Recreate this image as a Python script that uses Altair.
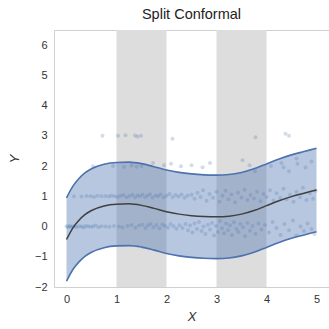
import altair as alt
import pandas as pd

# Fitted conditional mean (center of the split-conformal band)
grid_x = [0.0, 0.125, 0.25, 0.375, 0.5, 0.75, 1.0, 1.25, 1.5, 1.75, 2.0, 2.25,
          2.5, 2.75, 3.0, 3.25, 3.5, 3.75, 4.0, 4.25, 4.5, 4.75, 5.0]
grid_mu = [-0.43, -0.05, 0.21, 0.40, 0.53, 0.68, 0.74, 0.75, 0.70, 0.60, 0.49, 0.41,
           0.36, 0.33, 0.32, 0.34, 0.41, 0.53, 0.69, 0.85, 0.99, 1.10, 1.21]
# conformal quantile (half-width of the interval)
q_hat = 1.38

# Shaded x-regions
span_start = [1, 3]
span_end = [2, 4]

# Tick positions
x_ticks = [0, 1, 2, 3, 4, 5]
y_ticks = [-2, -1, 0, 1, 2, 3, 4, 5, 6]

# Observations
obs_x = [
    # around Y=0, x < 2.3
    0.00, 0.03, 0.06, 0.09, 0.12, 0.16, 0.20, 0.25, 0.30, 0.34, 0.38, 0.43, 0.48, 0.53,
    0.58, 0.64, 0.70, 0.78, 0.86, 0.95, 1.05, 1.12, 1.22, 1.30, 1.38, 1.45, 1.52, 1.58,
    1.63, 1.68, 1.74, 1.80, 1.86, 1.92, 1.97, 2.03, 2.08, 2.14, 2.20, 2.26,
    # around Y=0, x > 2.3
    2.32, 2.38, 2.43, 2.47, 2.52, 2.56, 2.61, 2.65, 2.70, 2.74, 2.78, 2.83, 2.87, 2.91,
    2.95, 2.99, 3.03, 3.07, 3.11, 3.15, 3.19, 3.23, 3.27, 3.31, 3.35, 3.40, 3.44, 3.48,
    3.53, 3.57, 3.62, 3.67, 3.72, 3.78, 3.84, 3.90, 3.97, 4.05, 4.12, 4.20, 4.28, 4.36,
    4.45, 4.53, 4.60, 4.68, 4.75, 4.82, 4.90, 4.96,
    # around Y=1, x < 2.5
    0.15, 0.30, 0.40, 0.48, 0.55, 0.62, 0.70, 0.78, 0.85, 0.90, 0.96, 1.02, 1.08, 1.14,
    1.20, 1.26, 1.32, 1.37, 1.42, 1.47, 1.52, 1.57, 1.62, 1.67, 1.72, 1.78, 1.83, 1.88,
    1.94, 2.00, 2.06, 2.12, 2.18, 2.24, 2.30, 2.36, 2.42,
    # around Y=1, x > 2.5
    2.50, 2.56, 2.62, 2.68, 2.73, 2.80, 2.86, 2.93, 3.00, 3.06, 3.12, 3.18, 3.24, 3.30,
    3.37, 3.43, 3.50, 3.56, 3.62, 3.68, 3.75, 3.81, 3.88, 3.94, 4.00, 4.07, 4.14, 4.20,
    4.27, 4.34, 4.40, 4.47, 4.54, 4.60, 4.67, 4.73, 4.80, 4.87, 4.93, 4.98,
    # around Y=2
    0.53, 0.93, 1.15, 1.30, 1.40, 1.50, 1.73, 1.95, 2.09, 2.29, 2.50, 2.72, 2.87, 3.52,
    3.66, 3.77, 4.09, 4.30, 4.34, 4.45, 4.60, 4.62, 4.78, 4.90,
    # around Y=3
    0.72, 1.03, 1.18, 1.37, 1.42, 1.49, 2.12, 3.78, 4.38, 4.45,
]
obs_y = [
    0.01, -0.02, 0.02, 0.00, -0.01, 0.02, -0.02, 0.01, 0.00, -0.03, 0.02, 0.01, -0.01, 0.00,
    0.03, -0.02, 0.01, 0.00, -0.01, 0.02, 0.00, -0.03, 0.02, 0.05, -0.04, 0.03, 0.06, -0.05,
    0.04, 0.08, -0.02, 0.05, -0.06, 0.07, 0.02, -0.04, 0.08, 0.01, -0.07, 0.04,
    -0.05, 0.08, -0.12, 0.03, -0.20, 0.10, -0.08, 0.15, -0.15, 0.00, -0.25, 0.06, -0.10, 0.12,
    -0.30, 0.02, -0.18, 0.18, -0.06, -0.22, 0.10, -0.12, 0.04, -0.28, 0.14, -0.08, -0.18, 0.08,
    -0.02, -0.32, 0.12, -0.14, 0.02, -0.24, 0.10, -0.10, 0.05, -0.20, 0.15, -0.05, -0.28, 0.08,
    -0.12, 0.20, -0.30, 0.00, -0.15, 0.10, -0.08, -0.25,
    1.00, 0.99, 1.01, 1.00, 0.98, 1.02, 1.00, 1.01, 0.99, 1.03, 1.00, 0.98, 1.02, 1.04,
    0.97, 1.01, 1.05, 0.96, 1.03, 1.00, 1.06, 0.97, 1.02, 1.07, 0.95, 1.03, 1.00, 1.06,
    0.96, 1.02, 1.08, 0.97, 1.04, 0.99, 1.06, 0.95, 1.02,
    1.05, 0.92, 1.12, 0.98, 1.20, 0.85, 1.08, 0.95, 1.15, 0.82, 1.02, 1.18, 0.90, 1.06,
    0.80, 1.12, 0.96, 1.22, 0.88, 1.04, 0.93, 1.15, 0.84, 1.08, 0.98, 1.20, 0.86, 1.10,
    0.95, 1.25, 0.90, 1.05, 0.82, 1.15, 0.97, 1.28, 0.88, 1.10, 0.92, 1.18,
    1.99, 2.00, 1.97, 2.02, 1.98, 2.00, 2.10, 2.03, 2.08, 1.99, 2.03, 1.96, 2.10, 2.19,
    2.03, 1.83, 2.00, 2.10, 1.96, 1.83, 2.25, 2.08, 1.95, 2.15,
    3.00, 3.00, 3.02, 3.01, 2.98, 3.00, 2.90, 2.95, 3.07, 3.00,
]

blue = "#4c72b0"
font = "Liberation Sans"

fit = pd.DataFrame({"x": grid_x, "mu": grid_mu})
spans = pd.DataFrame({"start": span_start, "end": span_end})
obs = pd.DataFrame({"x": obs_x, "y": obs_y})

xscale = alt.Scale(domain=[-0.25, 5.25], nice=False, zero=False)
yscale = alt.Scale(domain=[-2, 6.5], nice=False, zero=False)

xaxis = alt.Axis(values=x_ticks, title="X", grid=False, ticks=False,
                 domain=False, labelPadding=6, titlePadding=6, labelOverlap=False)
yaxis = alt.Axis(values=y_ticks, title="Y", grid=False,
                 ticks=False, domain=False, labelPadding=7, titlePadding=13,
                 labelOverlap=False)


def X(field):
    return alt.X(field, scale=xscale, axis=xaxis)


def Y(field):
    return alt.Y(field, scale=yscale, axis=yaxis)


shade = alt.Chart(spans).mark_rect(color="#dddddd").encode(
    x=X("start:Q"),
    x2="end:Q",
    y=alt.value(0),
    y2=alt.value(257),
)

points = alt.Chart(obs).mark_circle(color=blue, opacity=0.25, size=16).encode(
    x=X("x:Q"), y=Y("y:Q"),
)

band_base = alt.Chart(fit).transform_calculate(
    lo=f"datum.mu - {q_hat}", hi=f"datum.mu + {q_hat}"
)

band = band_base.mark_area(color=blue, opacity=0.4, interpolate="monotone").encode(
    x=X("x:Q"), y=Y("lo:Q"), y2="hi:Q",
)
upper = band_base.mark_line(color=blue, strokeWidth=1.6, interpolate="monotone").encode(
    x=X("x:Q"), y=Y("hi:Q")
)
lower = band_base.mark_line(color=blue, strokeWidth=1.6, interpolate="monotone").encode(
    x=X("x:Q"), y=Y("lo:Q")
)
center = alt.Chart(fit).mark_line(color="#404040", strokeWidth=1.5,
                                  interpolate="monotone").encode(
    x=X("x:Q"), y=Y("mu:Q")
)

chart = alt.layer(shade, points, band, upper, lower, center).properties(
    width=275,
    height=257,
    title=alt.Title("Split Conformal", fontSize=14.5, font=font, fontWeight="normal",
                    color="#222222", anchor="middle", offset=8),
    autosize=alt.AutoSizeParams(type="none"),
    padding={"left": 54, "top": 30, "right": 0, "bottom": 42},
).configure_view(
    stroke="#d0d0d0", strokeWidth=1
).configure_axis(
    labelFont=font, labelFontSize=11, labelColor="#333333",
    titleFont=font, titleFontSize=13, titleFontStyle="italic",
    titleFontWeight="normal", titleColor="#333333",
)

chart.save("out.html", embed_options={"renderer": "svg", "actions": False})
